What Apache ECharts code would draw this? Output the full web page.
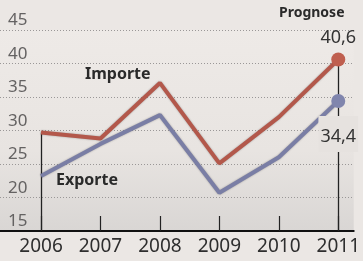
<!DOCTYPE html>
<html>
<head>
<meta charset="utf-8">
<script src="https://cdn.jsdelivr.net/npm/echarts@6/dist/echarts.min.js"></script>
<style>
  html, body { margin: 0; padding: 0; background: #ebe7e4; }
  #main { width: 363px; height: 261px; }
</style>
</head>
<body>
<div id="main"></div>
<script>
var years = [2006, 2007, 2008, 2009, 2010, 2011];
var importe = [29.7, 28.8, 37.1, 25.1, 32.0, 40.6];
var exporte = [23.2, 28.0, 32.3, 20.7, 26.0, 34.4];
var yTicks = { min: 15, max: 45, step: 5 };

var chart = echarts.init(document.getElementById('main'), null, { renderer: 'canvas' });

// letzte Punkt bekommt Kreis + Wert
function toData(vals, labelPos, labelDist) {
  return vals.map(function (v, i) {
    var last = i === vals.length - 1;
    return {
      value: [years[i], v],
      symbolSize: last ? 14 : 0,
      label: {
        show: last,
        position: labelPos,
        distance: labelDist,
        formatter: function (p) { return String(p.value[1]).replace('.', ','); },
        color: '#333',
        fontSize: 18,
        fontFamily: 'Noto Sans',
        backgroundColor: labelPos === 'bottom' ? '#e6e2df' : 'transparent',
        padding: labelPos === 'bottom' ? [12, 2, 6, 2] : 0,
        align: 'center'
      }
    };
  });
}

var first = years[0], last = years[years.length - 1];

var option = {
  backgroundColor: '#ebe7e4',
  animation: false,
  grid: {
    left: 0, right: 0, top: 30, bottom: 30,
    show: true, borderWidth: 0,
    backgroundColor: new echarts.graphic.LinearGradient(0, 0, 0, 1, [
      { offset: 0, color: '#eeeae7' },
      { offset: 0.6, color: '#e8e4e1' },
      { offset: 1, color: '#d9d6d4' }
    ])
  },
  xAxis: {
    type: 'value',
    min: 2005.31,
    max: 2011.26,
    axisLine: { lineStyle: { color: '#111', width: 2 } },
    axisTick: { inside: true, length: 15, customValues: years, lineStyle: { color: '#222', width: 1.2 } },
    axisLabel: {
      customValues: years,
      formatter: function (v) { return String(v); },
      color: '#2e2e2e', fontSize: 19, fontFamily: 'Noto Sans', margin: 6
    },
    splitLine: { show: false }
  },
  yAxis: {
    type: 'value',
    min: yTicks.min, max: yTicks.max, interval: yTicks.step,
    axisLine: { show: false },
    axisTick: { show: false },
    axisLabel: {
      inside: true, verticalAlign: 'bottom', margin: 8,
      padding: [0, 0, 1, 0],
      color: '#646262', fontSize: 17, fontFamily: 'Noto Sans'
    },
    splitLine: { lineStyle: { type: [1, 2], color: '#9a9797', width: 1 } }
  },
  series: [
    {
      name: 'Importe',
      type: 'line',
      z: 3,
      symbol: 'circle',
      itemStyle: { color: '#bf5f4f' },
      lineStyle: { color: '#b3584b', width: 4, shadowColor: 'rgba(0,0,0,0.3)', shadowBlur: 2 },
      data: toData(importe, 'top', 6),
      markLine: {
        silent: true, symbol: 'none', z: 1,
        label: { show: false },
        lineStyle: { color: '#222', width: 1.3, type: 'solid' },
        data: [
          [{ coord: [first, yTicks.min] }, { coord: [first, importe[0]] }],
          [{ coord: [last, yTicks.min] }, { coord: [last, importe[importe.length - 1]] }]
        ]
      }
    },
    {
      name: 'Exporte',
      type: 'line',
      z: 4,
      symbol: 'circle',
      itemStyle: { color: '#8085ad' },
      lineStyle: { color: '#7a7ea5', width: 4, shadowColor: 'rgba(0,0,0,0.3)', shadowBlur: 2 },
      data: toData(exporte, 'bottom', 8)
    }
  ],
  graphic: [
    { type: 'text', left: 85, top: 66, style: { text: 'Importe', fill: '#2a2a2a', font: 'bold 16px "Noto Sans"' } },
    { type: 'text', left: 56, top: 172, style: { text: 'Exporte', fill: '#2a2a2a', font: 'bold 16px "Noto Sans"' } },
    { type: 'text', left: 279, top: 6, style: { text: 'Prognose', fill: '#2a2a2a', font: 'bold 14px "Noto Sans"' } }
  ]
};

chart.setOption(option);
</script>
</body>
</html>
